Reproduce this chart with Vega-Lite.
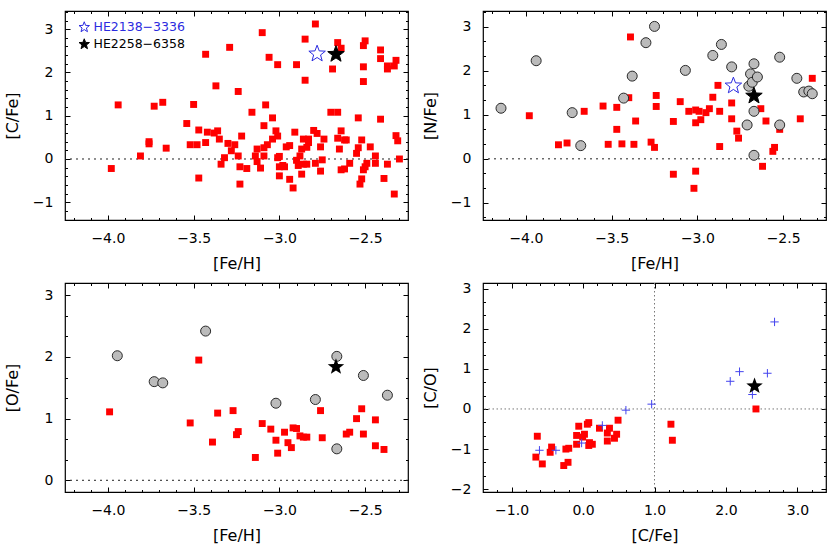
{
  "$schema": "https://vega.github.io/schema/vega-lite/v6.json",
  "padding": {"left": 3, "top": 9, "right": 2, "bottom": 2},
  "config": {
    "view": {"stroke": "#000", "strokeWidth": 1.2},
    "axis": {"domain": false, "grid": false, "labelFont": "DejaVu Sans", "labelFontSize": 14, "labelColor": "#000", "titleFont": "DejaVu Sans", "titleFontSize": 16, "titleFontWeight": "normal", "titleColor": "#000", "tickColor": "#000", "tickWidth": 1, "labelFlush": false, "labelOverlap": false}
  },
  "spacing": 9,
  "resolve": {"scale": {"fill": "independent", "stroke": "independent"}, "legend": {"fill": "independent", "stroke": "independent"}},
  "datasets": {
    "p1r": [
      {"x":-3.98,"y":-0.22},{"x":-3.94,"y":1.25},{"x":-3.81,"y":0.07},{"x":-3.76,"y":0.40},{"x":-3.76,"y":0.35},{"x":-3.73,"y":1.22},{"x":-3.68,"y":1.31},{"x":-3.66,"y":0.25},{"x":-3.54,"y":0.82},{"x":-3.52,"y":0.33},{"x":-3.50,"y":1.26},{"x":-3.48,"y":0.33},{"x":-3.47,"y":0.67},{"x":-3.47,"y":-0.44},{"x":-3.43,"y":0.38},{"x":-3.43,"y":2.42},{"x":-3.42,"y":0.62},{"x":-3.38,"y":0.60},{"x":-3.36,"y":0.65},{"x":-3.37,"y":1.69},{"x":-3.35,"y":0.46},{"x":-3.34,"y":-0.12},{"x":-3.32,"y":0.03},{"x":-3.30,"y":0.36},{"x":-3.29,"y":2.58},{"x":-3.28,"y":0.19},{"x":-3.26,"y":0.33},{"x":-3.24,"y":1.56},{"x":-3.24,"y":0.07},{"x":-3.23,"y":-0.18},{"x":-3.23,"y":-0.58},{"x":-3.22,"y":0.53},{"x":-3.19,"y":-0.22},{"x":-3.16,"y":1.08},{"x":-3.14,"y":0.07},{"x":-3.13,"y":0.23},{"x":-3.13,"y":-0.06},{"x":-3.11,"y":-0.21},{"x":-3.10,"y":2.92},{"x":-3.09,"y":0.77},{"x":-3.09,"y":0.26},{"x":-3.09,"y":0.07},{"x":-3.08,"y":1.25},{"x":-3.07,"y":0.33},{"x":-3.06,"y":2.35},{"x":-3.04,"y":0.95},{"x":-3.04,"y":0.46},{"x":-3.02,"y":0.65},{"x":-3.01,"y":2.18},{"x":-3.01,"y":0.53},{"x":-3.01,"y":0.03},{"x":-3.00,"y":0.06},{"x":-3.00,"y":-0.18},{"x":-3.00,"y":-0.39},{"x":-2.98,"y":-0.15},{"x":-2.97,"y":-0.18},{"x":-2.96,"y":0.28},{"x":-2.94,"y":0.31},{"x":-2.94,"y":-0.47},{"x":-2.92,"y":-0.67},{"x":-2.91,"y":0.62},{"x":-2.90,"y":2.18},{"x":-2.90,"y":-0.03},{"x":-2.89,"y":-0.15},{"x":-2.88,"y":0.07},{"x":-2.87,"y":-0.35},{"x":-2.87,"y":0.23},{"x":-2.86,"y":0.46},{"x":-2.86,"y":-0.12},{"x":-2.85,"y":2.77},{"x":-2.85,"y":1.82},{"x":-2.84,"y":-0.12},{"x":-2.84,"y":0.27},{"x":-2.83,"y":0.46},{"x":-2.83,"y":0.38},{"x":-2.80,"y":0.66},{"x":-2.79,"y":3.12},{"x":-2.79,"y":-0.10},{"x":-2.78,"y":0.59},{"x":-2.76,"y":0.28},{"x":-2.76,"y":-0.28},{"x":-2.75,"y":-0.02},{"x":-2.74,"y":0.46},{"x":-2.70,"y":1.08},{"x":-2.69,"y":2.08},{"x":-2.66,"y":1.08},{"x":-2.66,"y":2.69},{"x":-2.66,"y":0.48},{"x":-2.65,"y":0.23},{"x":-2.64,"y":0.65},{"x":-2.64,"y":2.56},{"x":-2.64,"y":-0.25},{"x":-2.62,"y":-0.23},{"x":-2.62,"y":0.44},{"x":-2.61,"y":0.44},{"x":-2.59,"y":-0.10},{"x":-2.55,"y":0.13},{"x":-2.54,"y":0.95},{"x":-2.54,"y":0.26},{"x":-2.53,"y":-0.58},{"x":-2.52,"y":0.44},{"x":-2.52,"y":-0.46},{"x":-2.51,"y":2.13},{"x":-2.51,"y":1.79},{"x":-2.51,"y":-0.25},{"x":-2.51,"y":2.62},{"x":-2.50,"y":2.73},{"x":-2.50,"y":-0.18},{"x":-2.49,"y":-0.10},{"x":-2.47,"y":0.28},{"x":-2.44,"y":0.07},{"x":-2.44,"y":-0.10},{"x":-2.41,"y":2.52},{"x":-2.41,"y":0.92},{"x":-2.41,"y":2.32},{"x":-2.39,"y":-0.45},{"x":-2.37,"y":2.15},{"x":-2.37,"y":2.08},{"x":-2.37,"y":-0.12},{"x":-2.33,"y":2.15},{"x":-2.32,"y":2.28},{"x":-2.32,"y":0.54},{"x":-2.31,"y":0.42},{"x":-2.33,"y":-0.81},{"x":-2.30,"y":0.00}
    ],
    "p1s": [
      {"x":-2.78,"y":2.43,"star":"HE2138−3336"},{"x":-2.67,"y":2.42,"star":"HE2258−6358"}
    ],
    "p2r": [
      {"x":-3.98,"y":0.98},{"x":-3.81,"y":0.32},{"x":-3.76,"y":0.36},{"x":-3.66,"y":1.08},{"x":-3.55,"y":1.20},{"x":-3.52,"y":0.33},{"x":-3.47,"y":1.17},{"x":-3.47,"y":0.67},{"x":-3.44,"y":0.34},{"x":-3.40,"y":1.39},{"x":-3.39,"y":2.77},{"x":-3.37,"y":0.33},{"x":-3.36,"y":0.86},{"x":-3.27,"y":0.38},{"x":-3.25,"y":0.26},{"x":-3.24,"y":1.44},{"x":-3.24,"y":1.19},{"x":-3.14,"y":0.85},{"x":-3.14,"y":-0.35},{"x":-3.10,"y":1.30},{"x":-3.05,"y":1.08},{"x":-3.02,"y":-0.67},{"x":-3.01,"y":0.82},{"x":-3.01,"y":1.11},{"x":-3.01,"y":-0.28},{"x":-2.99,"y":1.08},{"x":-2.98,"y":0.89},{"x":-2.95,"y":1.05},{"x":-2.93,"y":1.14},{"x":-2.91,"y":1.40},{"x":-2.88,"y":1.67},{"x":-2.87,"y":1.08},{"x":-2.87,"y":0.28},{"x":-2.80,"y":1.27},{"x":-2.80,"y":0.91},{"x":-2.77,"y":0.63},{"x":-2.76,"y":0.47},{"x":-2.63,"y":1.14},{"x":-2.62,"y":-0.17},{"x":-2.60,"y":0.86},{"x":-2.56,"y":0.17},{"x":-2.55,"y":0.26},{"x":-2.52,"y":0.67},{"x":-2.40,"y":0.91},{"x":-2.33,"y":1.83}
    ],
    "p2g": [
      {"x":-4.145,"y":1.15},{"x":-3.94,"y":2.23},{"x":-3.73,"y":1.05},{"x":-3.68,"y":0.30},{"x":-3.43,"y":1.38},{"x":-3.38,"y":1.88},{"x":-3.30,"y":2.64},{"x":-3.25,"y":3.01},{"x":-3.07,"y":2.01},{"x":-2.91,"y":2.35},{"x":-2.86,"y":2.60},{"x":-2.80,"y":2.09},{"x":-2.71,"y":0.77},{"x":-2.70,"y":1.65},{"x":-2.69,"y":1.93},{"x":-2.68,"y":1.74},{"x":-2.67,"y":2.16},{"x":-2.65,"y":1.86},{"x":-2.67,"y":1.08},{"x":-2.67,"y":0.08},{"x":-2.52,"y":2.31},{"x":-2.52,"y":0.77},{"x":-2.42,"y":1.83},{"x":-2.38,"y":1.52},{"x":-2.35,"y":1.54},{"x":-2.33,"y":1.48}
    ],
    "p2s": [
      {"x":-2.79,"y":1.66,"star":"HE2138−3336"},{"x":-2.67,"y":1.43,"star":"HE2258−6358"}
    ],
    "p3r": [
      {"x":-3.99,"y":1.11},{"x":-3.52,"y":0.93},{"x":-3.47,"y":1.95},{"x":-3.39,"y":0.62},{"x":-3.36,"y":1.09},{"x":-3.27,"y":1.13},{"x":-3.25,"y":0.74},{"x":-3.24,"y":0.79},{"x":-3.14,"y":0.37},{"x":-3.10,"y":0.92},{"x":-3.05,"y":0.83},{"x":-3.02,"y":0.65},{"x":-3.01,"y":0.44},{"x":-2.97,"y":0.78},{"x":-2.95,"y":0.61},{"x":-2.93,"y":0.53},{"x":-2.92,"y":0.85},{"x":-2.90,"y":0.84},{"x":-2.88,"y":0.72},{"x":-2.86,"y":0.70},{"x":-2.84,"y":0.70},{"x":-2.76,"y":1.13},{"x":-2.75,"y":0.69},{"x":-2.61,"y":0.75},{"x":-2.59,"y":0.78},{"x":-2.55,"y":1.00},{"x":-2.52,"y":1.16},{"x":-2.51,"y":0.75},{"x":-2.44,"y":0.98},{"x":-2.44,"y":0.56},{"x":-2.39,"y":0.50}
    ],
    "p3g": [
      {"x":-3.945,"y":2.02},{"x":-3.73,"y":1.60},{"x":-3.68,"y":1.58},{"x":-3.43,"y":2.42},{"x":-3.02,"y":1.25},{"x":-2.79,"y":1.31},{"x":-2.665,"y":2.01},{"x":-2.665,"y":0.51},{"x":-2.51,"y":1.70},{"x":-2.37,"y":1.38}
    ],
    "p3s": [
      {"x":-2.67,"y":1.84,"star":"HE2258−6358"}
    ],
    "p4r": [
      {"x":-0.66,"y":-1.20},{"x":-0.64,"y":-0.68},{"x":-0.57,"y":-1.37},{"x":-0.46,"y":-1.08},{"x":-0.44,"y":-0.95},{"x":-0.27,"y":-1.41},{"x":-0.24,"y":-1.00},{"x":-0.21,"y":-1.33},{"x":-0.20,"y":-0.98},{"x":-0.09,"y":-0.66},{"x":-0.09,"y":-0.88},{"x":-0.06,"y":-0.43},{"x":-0.005,"y":-0.70},{"x":0.02,"y":-0.63},{"x":0.06,"y":-0.38},{"x":0.08,"y":-0.34},{"x":0.08,"y":-0.91},{"x":0.09,"y":-0.84},{"x":0.13,"y":-0.88},{"x":0.23,"y":-0.48},{"x":0.34,"y":-0.60},{"x":0.34,"y":-0.80},{"x":0.37,"y":-0.48},{"x":0.44,"y":-0.73},{"x":0.47,"y":-0.63},{"x":0.49,"y":-0.28},{"x":1.23,"y":-0.38},{"x":1.25,"y":-0.78},{"x":2.42,"y":0.00}
    ],
    "p4c": [
      {"x":-0.61,"y":-1.03},{"x":-0.38,"y":-1.03},{"x":-0.02,"y":-0.85},{"x":0.27,"y":-0.41},{"x":0.60,"y":-0.03},{"x":0.96,"y":0.12},{"x":2.06,"y":0.69},{"x":2.19,"y":0.93},{"x":2.37,"y":0.36},{"x":2.58,"y":0.89},{"x":2.68,"y":2.17}
    ],
    "p4s": [
      {"x":2.40,"y":0.57,"star":"HE2258−6358"}
    ]
  },
  "vconcat": [
    {
      "spacing": 11,
      "resolve": {"scale": {"fill": "independent", "stroke": "independent"}, "legend": {"fill": "independent", "stroke": "independent"}},
      "hconcat": [
        {
          "width": 343, "height": 209,
          "resolve": {"axis": {"x": "independent", "y": "independent"}},
          "layer": [
            {"data": {"values": [{"v": 0}]}, "mark": {"type": "rule", "strokeDash": [2, 4], "color": "#222", "strokeWidth": 1},
             "encoding": {"y": {"field": "v", "type": "quantitative", "scale": {"domain": [-1.41, 3.42], "nice": false, "zero": false}, "axis": null}}},
            {"data": {"name": "p1r"}, "mark": {"type": "point", "shape": "square", "filled": true, "color": "#ff0000", "size": 48, "opacity": 1},
             "encoding": {
               "x": {"field": "x", "type": "quantitative", "scale": {"domain": [-4.25, -2.25], "nice": false, "zero": false}, "axis": {"orient": "bottom", "values": [-4, -3.5, -3, -2.5], "format": ".1f", "ticks": false, "labelPadding": 11, "title": "[Fe/H]", "titlePadding": 9, "minExtent": 26, "maxExtent": 26}},
               "y": {"field": "y", "type": "quantitative", "scale": {"domain": [-1.41, 3.42], "nice": false, "zero": false}, "axis": {"orient": "left", "values": [-1, 0, 1, 2, 3], "format": "d", "ticks": false, "labelPadding": 12, "title": "[C/Fe]", "titlePadding": 15, "minExtent": 30, "maxExtent": 30}}}},
            {"data": {"name": "p1s"}, "mark": {"type": "point", "shape": "M0,-1L0.247,-0.34L0.951,-0.309L0.399,0.13L0.588,0.809L0,0.42L-0.588,0.809L-0.399,0.13L-0.951,-0.309L-0.247,-0.34Z", "filled": true, "size": 300, "opacity": 1, "strokeWidth": 1},
             "encoding": {
               "x": {"field": "x", "type": "quantitative", "scale": {"domain": [-4.25, -2.25], "nice": false, "zero": false}, "axis": null},
               "y": {"field": "y", "type": "quantitative", "scale": {"domain": [-1.41, 3.42], "nice": false, "zero": false}, "axis": null},
               "fill": {"field": "star", "type": "nominal", "scale": {"domain": ["HE2138−3336", "HE2258−6358"], "range": ["transparent", "#000000"]},
                 "legend": {"title": null, "orient": "none", "legendX": 13, "legendY": 10, "padding": 0, "symbolType": "M0,-1L0.247,-0.34L0.951,-0.309L0.399,0.13L0.588,0.809L0,0.42L-0.588,0.809L-0.399,0.13L-0.951,-0.309L-0.247,-0.34Z", "symbolSize": 120, "symbolStrokeWidth": 1, "labelFont": "DejaVu Sans", "labelFontSize": 12.5, "labelOffset": 3, "rowPadding": 2, "labelColor": {"expr": "datum.value === 'HE2138−3336' ? '#2b2be0' : '#000000'"}}},
               "stroke": {"field": "star", "type": "nominal", "scale": {"domain": ["HE2138−3336", "HE2258−6358"], "range": ["#2b2be0", "#000000"]},
                 "legend": {"title": null, "orient": "none", "legendX": 13, "legendY": 10, "padding": 0, "symbolType": "M0,-1L0.247,-0.34L0.951,-0.309L0.399,0.13L0.588,0.809L0,0.42L-0.588,0.809L-0.399,0.13L-0.951,-0.309L-0.247,-0.34Z", "symbolSize": 120, "symbolStrokeWidth": 1, "labelFont": "DejaVu Sans", "labelFontSize": 12.5, "labelOffset": 3, "rowPadding": 2, "labelColor": {"expr": "datum.value === 'HE2138−3336' ? '#2b2be0' : '#000000'"}}}}},
            {"data": {"name": "p1r"}, "mark": {"type": "point", "opacity": 0},
             "encoding": {
               "x": {"field": "x", "type": "quantitative", "scale": {"domain": [-4.25, -2.25], "nice": false, "zero": false}, "axis": {"orient": "bottom", "values": [-4, -3.5, -3, -2.5], "labels": false, "title": null, "tickSize": -5}},
               "y": {"field": "y", "type": "quantitative", "scale": {"domain": [-1.41, 3.42], "nice": false, "zero": false}, "axis": {"orient": "left", "values": [-1, 0, 1, 2, 3], "labels": false, "title": null, "tickSize": -5}}}},
            {"data": {"name": "p1r"}, "mark": {"type": "point", "opacity": 0},
             "encoding": {
               "x": {"field": "x", "type": "quantitative", "scale": {"domain": [-4.25, -2.25], "nice": false, "zero": false}, "axis": {"orient": "top", "values": [-4, -3.5, -3, -2.5], "labels": false, "title": null, "tickSize": -5}},
               "y": {"field": "y", "type": "quantitative", "scale": {"domain": [-1.41, 3.42], "nice": false, "zero": false}, "axis": {"orient": "right", "values": [-1, 0, 1, 2, 3], "labels": false, "title": null, "tickSize": -5}}}},
            {"data": {"name": "p1r"}, "mark": {"type": "point", "opacity": 0},
             "encoding": {
               "x": {"field": "x", "type": "quantitative", "scale": {"domain": [-4.25, -2.25], "nice": false, "zero": false}, "axis": {"orient": "bottom", "values": [-4.2, -4.1, -3.9, -3.8, -3.7, -3.6, -3.4, -3.3, -3.2, -3.1, -2.9, -2.8, -2.7, -2.6, -2.4, -2.3], "labels": false, "title": null, "tickSize": -2.5}},
               "y": {"field": "y", "type": "quantitative", "scale": {"domain": [-1.41, 3.42], "nice": false, "zero": false}, "axis": {"orient": "left", "values": [-1.4, -1.2, -0.8, -0.6, -0.4, -0.2, 0.2, 0.4, 0.6, 0.8, 1.2, 1.4, 1.6, 1.8, 2.2, 2.4, 2.6, 2.8, 3.2, 3.4], "labels": false, "title": null, "tickSize": -2.5}}}},
            {"data": {"name": "p1r"}, "mark": {"type": "point", "opacity": 0},
             "encoding": {
               "x": {"field": "x", "type": "quantitative", "scale": {"domain": [-4.25, -2.25], "nice": false, "zero": false}, "axis": {"orient": "top", "values": [-4.2, -4.1, -3.9, -3.8, -3.7, -3.6, -3.4, -3.3, -3.2, -3.1, -2.9, -2.8, -2.7, -2.6, -2.4, -2.3], "labels": false, "title": null, "tickSize": -2.5}},
               "y": {"field": "y", "type": "quantitative", "scale": {"domain": [-1.41, 3.42], "nice": false, "zero": false}, "axis": {"orient": "right", "values": [-1.4, -1.2, -0.8, -0.6, -0.4, -0.2, 0.2, 0.4, 0.6, 0.8, 1.2, 1.4, 1.6, 1.8, 2.2, 2.4, 2.6, 2.8, 3.2, 3.4], "labels": false, "title": null, "tickSize": -2.5}}}}
          ]
        },
        {
          "width": 343, "height": 209,
          "resolve": {"axis": {"x": "independent", "y": "independent"}},
          "layer": [
            {"data": {"values": [{"v": 0}]}, "mark": {"type": "rule", "strokeDash": [2, 4], "color": "#222", "strokeWidth": 1},
             "encoding": {"y": {"field": "v", "type": "quantitative", "scale": {"domain": [-1.39, 3.36], "nice": false, "zero": false}, "axis": null}}},
            {"data": {"name": "p2r"}, "mark": {"type": "point", "shape": "square", "filled": true, "color": "#ff0000", "size": 48, "opacity": 1},
             "encoding": {
               "x": {"field": "x", "type": "quantitative", "scale": {"domain": [-4.25, -2.25], "nice": false, "zero": false}, "axis": {"orient": "bottom", "values": [-4, -3.5, -3, -2.5], "format": ".1f", "ticks": false, "labelPadding": 11, "title": "[Fe/H]", "titlePadding": 9, "minExtent": 26, "maxExtent": 26}},
               "y": {"field": "y", "type": "quantitative", "scale": {"domain": [-1.39, 3.36], "nice": false, "zero": false}, "axis": {"orient": "left", "values": [-1, 0, 1, 2, 3], "format": "d", "ticks": false, "labelPadding": 12, "title": "[N/Fe]", "titlePadding": 15, "minExtent": 30, "maxExtent": 30}}}},
            {"data": {"name": "p2g"}, "mark": {"type": "point", "shape": "circle", "filled": true, "fill": "#bbbbbb", "stroke": "#2a2a2a", "strokeWidth": 1, "size": 100, "opacity": 1},
             "encoding": {
               "x": {"field": "x", "type": "quantitative", "scale": {"domain": [-4.25, -2.25], "nice": false, "zero": false}, "axis": null},
               "y": {"field": "y", "type": "quantitative", "scale": {"domain": [-1.39, 3.36], "nice": false, "zero": false}, "axis": null}}},
            {"data": {"name": "p2s"}, "mark": {"type": "point", "shape": "M0,-1L0.247,-0.34L0.951,-0.309L0.399,0.13L0.588,0.809L0,0.42L-0.588,0.809L-0.399,0.13L-0.951,-0.309L-0.247,-0.34Z", "filled": true, "size": 300, "opacity": 1, "strokeWidth": 1},
             "encoding": {
               "x": {"field": "x", "type": "quantitative", "scale": {"domain": [-4.25, -2.25], "nice": false, "zero": false}, "axis": null},
               "y": {"field": "y", "type": "quantitative", "scale": {"domain": [-1.39, 3.36], "nice": false, "zero": false}, "axis": null},
               "fill": {"field": "star", "type": "nominal", "scale": {"domain": ["HE2138−3336", "HE2258−6358"], "range": ["transparent", "#000000"]}, "legend": null},
               "stroke": {"field": "star", "type": "nominal", "scale": {"domain": ["HE2138−3336", "HE2258−6358"], "range": ["#2b2be0", "#000000"]}, "legend": null}}},
            {"data": {"name": "p2r"}, "mark": {"type": "point", "opacity": 0},
             "encoding": {
               "x": {"field": "x", "type": "quantitative", "scale": {"domain": [-4.25, -2.25], "nice": false, "zero": false}, "axis": {"orient": "bottom", "values": [-4, -3.5, -3, -2.5], "labels": false, "title": null, "tickSize": -5}},
               "y": {"field": "y", "type": "quantitative", "scale": {"domain": [-1.39, 3.36], "nice": false, "zero": false}, "axis": {"orient": "left", "values": [-1, 0, 1, 2, 3], "labels": false, "title": null, "tickSize": -5}}}},
            {"data": {"name": "p2r"}, "mark": {"type": "point", "opacity": 0},
             "encoding": {
               "x": {"field": "x", "type": "quantitative", "scale": {"domain": [-4.25, -2.25], "nice": false, "zero": false}, "axis": {"orient": "top", "values": [-4, -3.5, -3, -2.5], "labels": false, "title": null, "tickSize": -5}},
               "y": {"field": "y", "type": "quantitative", "scale": {"domain": [-1.39, 3.36], "nice": false, "zero": false}, "axis": {"orient": "right", "values": [-1, 0, 1, 2, 3], "labels": false, "title": null, "tickSize": -5}}}},
            {"data": {"name": "p2r"}, "mark": {"type": "point", "opacity": 0},
             "encoding": {
               "x": {"field": "x", "type": "quantitative", "scale": {"domain": [-4.25, -2.25], "nice": false, "zero": false}, "axis": {"orient": "bottom", "values": [-4.2, -4.1, -3.9, -3.8, -3.7, -3.6, -3.4, -3.3, -3.2, -3.1, -2.9, -2.8, -2.7, -2.6, -2.4, -2.3], "labels": false, "title": null, "tickSize": -2.5}},
               "y": {"field": "y", "type": "quantitative", "scale": {"domain": [-1.39, 3.36], "nice": false, "zero": false}, "axis": {"orient": "left", "values": [-1.333, -0.667, -0.333, 0.333, 0.667, 1.333, 1.667, 2.333, 2.667, 3.333], "labels": false, "title": null, "tickSize": -2.5}}}},
            {"data": {"name": "p2r"}, "mark": {"type": "point", "opacity": 0},
             "encoding": {
               "x": {"field": "x", "type": "quantitative", "scale": {"domain": [-4.25, -2.25], "nice": false, "zero": false}, "axis": {"orient": "top", "values": [-4.2, -4.1, -3.9, -3.8, -3.7, -3.6, -3.4, -3.3, -3.2, -3.1, -2.9, -2.8, -2.7, -2.6, -2.4, -2.3], "labels": false, "title": null, "tickSize": -2.5}},
               "y": {"field": "y", "type": "quantitative", "scale": {"domain": [-1.39, 3.36], "nice": false, "zero": false}, "axis": {"orient": "right", "values": [-1.333, -0.667, -0.333, 0.333, 0.667, 1.333, 1.667, 2.333, 2.667, 3.333], "labels": false, "title": null, "tickSize": -2.5}}}}
          ]
        }
      ]
    },
    {
      "spacing": 11,
      "hconcat": [
        {
          "width": 343, "height": 209,
          "resolve": {"axis": {"x": "independent", "y": "independent"}},
          "layer": [
            {"data": {"values": [{"v": 0}]}, "mark": {"type": "rule", "strokeDash": [2, 4], "color": "#222", "strokeWidth": 1},
             "encoding": {"y": {"field": "v", "type": "quantitative", "scale": {"domain": [-0.19, 3.2], "nice": false, "zero": false}, "axis": null}}},
            {"data": {"name": "p3r"}, "mark": {"type": "point", "shape": "square", "filled": true, "color": "#ff0000", "size": 48, "opacity": 1},
             "encoding": {
               "x": {"field": "x", "type": "quantitative", "scale": {"domain": [-4.25, -2.25], "nice": false, "zero": false}, "axis": {"orient": "bottom", "values": [-4, -3.5, -3, -2.5], "format": ".1f", "ticks": false, "labelPadding": 11, "title": "[Fe/H]", "titlePadding": 9, "minExtent": 26, "maxExtent": 26}},
               "y": {"field": "y", "type": "quantitative", "scale": {"domain": [-0.19, 3.2], "nice": false, "zero": false}, "axis": {"orient": "left", "values": [0, 1, 2, 3], "format": "d", "ticks": false, "labelPadding": 12, "title": "[O/Fe]", "titlePadding": 15, "minExtent": 30, "maxExtent": 30}}}},
            {"data": {"name": "p3g"}, "mark": {"type": "point", "shape": "circle", "filled": true, "fill": "#bbbbbb", "stroke": "#2a2a2a", "strokeWidth": 1, "size": 100, "opacity": 1},
             "encoding": {
               "x": {"field": "x", "type": "quantitative", "scale": {"domain": [-4.25, -2.25], "nice": false, "zero": false}, "axis": null},
               "y": {"field": "y", "type": "quantitative", "scale": {"domain": [-0.19, 3.2], "nice": false, "zero": false}, "axis": null}}},
            {"data": {"name": "p3s"}, "mark": {"type": "point", "shape": "M0,-1L0.247,-0.34L0.951,-0.309L0.399,0.13L0.588,0.809L0,0.42L-0.588,0.809L-0.399,0.13L-0.951,-0.309L-0.247,-0.34Z", "filled": true, "color": "#000000", "size": 300, "opacity": 1},
             "encoding": {
               "x": {"field": "x", "type": "quantitative", "scale": {"domain": [-4.25, -2.25], "nice": false, "zero": false}, "axis": null},
               "y": {"field": "y", "type": "quantitative", "scale": {"domain": [-0.19, 3.2], "nice": false, "zero": false}, "axis": null}}},
            {"data": {"name": "p3r"}, "mark": {"type": "point", "opacity": 0},
             "encoding": {
               "x": {"field": "x", "type": "quantitative", "scale": {"domain": [-4.25, -2.25], "nice": false, "zero": false}, "axis": {"orient": "bottom", "values": [-4, -3.5, -3, -2.5], "labels": false, "title": null, "tickSize": -5}},
               "y": {"field": "y", "type": "quantitative", "scale": {"domain": [-0.19, 3.2], "nice": false, "zero": false}, "axis": {"orient": "left", "values": [0, 1, 2, 3], "labels": false, "title": null, "tickSize": -5}}}},
            {"data": {"name": "p3r"}, "mark": {"type": "point", "opacity": 0},
             "encoding": {
               "x": {"field": "x", "type": "quantitative", "scale": {"domain": [-4.25, -2.25], "nice": false, "zero": false}, "axis": {"orient": "top", "values": [-4, -3.5, -3, -2.5], "labels": false, "title": null, "tickSize": -5}},
               "y": {"field": "y", "type": "quantitative", "scale": {"domain": [-0.19, 3.2], "nice": false, "zero": false}, "axis": {"orient": "right", "values": [0, 1, 2, 3], "labels": false, "title": null, "tickSize": -5}}}},
            {"data": {"name": "p3r"}, "mark": {"type": "point", "opacity": 0},
             "encoding": {
               "x": {"field": "x", "type": "quantitative", "scale": {"domain": [-4.25, -2.25], "nice": false, "zero": false}, "axis": {"orient": "bottom", "values": [-4.2, -4.1, -3.9, -3.8, -3.7, -3.6, -3.4, -3.3, -3.2, -3.1, -2.9, -2.8, -2.7, -2.6, -2.4, -2.3], "labels": false, "title": null, "tickSize": -2.5}},
               "y": {"field": "y", "type": "quantitative", "scale": {"domain": [-0.19, 3.2], "nice": false, "zero": false}, "axis": {"orient": "left", "values": [0.333, 0.667, 1.333, 1.667, 2.333, 2.667], "labels": false, "title": null, "tickSize": -2.5}}}},
            {"data": {"name": "p3r"}, "mark": {"type": "point", "opacity": 0},
             "encoding": {
               "x": {"field": "x", "type": "quantitative", "scale": {"domain": [-4.25, -2.25], "nice": false, "zero": false}, "axis": {"orient": "top", "values": [-4.2, -4.1, -3.9, -3.8, -3.7, -3.6, -3.4, -3.3, -3.2, -3.1, -2.9, -2.8, -2.7, -2.6, -2.4, -2.3], "labels": false, "title": null, "tickSize": -2.5}},
               "y": {"field": "y", "type": "quantitative", "scale": {"domain": [-0.19, 3.2], "nice": false, "zero": false}, "axis": {"orient": "right", "values": [0.333, 0.667, 1.333, 1.667, 2.333, 2.667], "labels": false, "title": null, "tickSize": -2.5}}}}
          ]
        },
        {
          "width": 343, "height": 209,
          "resolve": {"axis": {"x": "independent", "y": "independent"}},
          "layer": [
            {"data": {"values": [{"v": 0}]}, "mark": {"type": "rule", "strokeDash": [1.5, 2.5], "color": "#777777", "strokeWidth": 1},
             "encoding": {"y": {"field": "v", "type": "quantitative", "scale": {"domain": [-2.07, 3.14], "nice": false, "zero": false}, "axis": null}}},
            {"data": {"values": [{"v": 1}]}, "mark": {"type": "rule", "strokeDash": [1.5, 2.5], "color": "#777777", "strokeWidth": 1},
             "encoding": {"x": {"field": "v", "type": "quantitative", "scale": {"domain": [-1.4, 3.4], "nice": false, "zero": false}, "axis": null}}},
            {"data": {"name": "p4r"}, "mark": {"type": "point", "shape": "square", "filled": true, "color": "#ff0000", "size": 48, "opacity": 1},
             "encoding": {
               "x": {"field": "x", "type": "quantitative", "scale": {"domain": [-1.4, 3.4], "nice": false, "zero": false}, "axis": {"orient": "bottom", "values": [-1, 0, 1, 2, 3], "format": ".1f", "ticks": false, "labelPadding": 11, "title": "[C/Fe]", "titlePadding": 9, "minExtent": 26, "maxExtent": 26}},
               "y": {"field": "y", "type": "quantitative", "scale": {"domain": [-2.07, 3.14], "nice": false, "zero": false}, "axis": {"orient": "left", "values": [-2, -1, 0, 1, 2, 3], "format": "d", "ticks": false, "labelPadding": 12, "title": "[C/O]", "titlePadding": 15, "minExtent": 30, "maxExtent": 30}}}},
            {"data": {"name": "p4c"}, "mark": {"type": "point", "shape": "M-1,0L1,0M0,-1L0,1", "filled": false, "stroke": "#4444ee", "strokeWidth": 1, "size": 70, "opacity": 1},
             "encoding": {
               "x": {"field": "x", "type": "quantitative", "scale": {"domain": [-1.4, 3.4], "nice": false, "zero": false}, "axis": null},
               "y": {"field": "y", "type": "quantitative", "scale": {"domain": [-2.07, 3.14], "nice": false, "zero": false}, "axis": null}}},
            {"data": {"name": "p4s"}, "mark": {"type": "point", "shape": "M0,-1L0.247,-0.34L0.951,-0.309L0.399,0.13L0.588,0.809L0,0.42L-0.588,0.809L-0.399,0.13L-0.951,-0.309L-0.247,-0.34Z", "filled": true, "color": "#000000", "size": 300, "opacity": 1},
             "encoding": {
               "x": {"field": "x", "type": "quantitative", "scale": {"domain": [-1.4, 3.4], "nice": false, "zero": false}, "axis": null},
               "y": {"field": "y", "type": "quantitative", "scale": {"domain": [-2.07, 3.14], "nice": false, "zero": false}, "axis": null}}},
            {"data": {"name": "p4r"}, "mark": {"type": "point", "opacity": 0},
             "encoding": {
               "x": {"field": "x", "type": "quantitative", "scale": {"domain": [-1.4, 3.4], "nice": false, "zero": false}, "axis": {"orient": "bottom", "values": [-1, 0, 1, 2, 3], "labels": false, "title": null, "tickSize": -5}},
               "y": {"field": "y", "type": "quantitative", "scale": {"domain": [-2.07, 3.14], "nice": false, "zero": false}, "axis": {"orient": "left", "values": [-2, -1, 0, 1, 2, 3], "labels": false, "title": null, "tickSize": -5}}}},
            {"data": {"name": "p4r"}, "mark": {"type": "point", "opacity": 0},
             "encoding": {
               "x": {"field": "x", "type": "quantitative", "scale": {"domain": [-1.4, 3.4], "nice": false, "zero": false}, "axis": {"orient": "top", "values": [-1, 0, 1, 2, 3], "labels": false, "title": null, "tickSize": -5}},
               "y": {"field": "y", "type": "quantitative", "scale": {"domain": [-2.07, 3.14], "nice": false, "zero": false}, "axis": {"orient": "right", "values": [-2, -1, 0, 1, 2, 3], "labels": false, "title": null, "tickSize": -5}}}},
            {"data": {"name": "p4r"}, "mark": {"type": "point", "opacity": 0},
             "encoding": {
               "x": {"field": "x", "type": "quantitative", "scale": {"domain": [-1.4, 3.4], "nice": false, "zero": false}, "axis": {"orient": "bottom", "values": [-1.2, -0.8, -0.6, -0.4, -0.2, 0.2, 0.4, 0.6, 0.8, 1.2, 1.4, 1.6, 1.8, 2.2, 2.4, 2.6, 2.8, 3.2], "labels": false, "title": null, "tickSize": -2.5}},
               "y": {"field": "y", "type": "quantitative", "scale": {"domain": [-2.07, 3.14], "nice": false, "zero": false}, "axis": {"orient": "left", "values": [-1.667, -1.333, -0.667, -0.333, 0.333, 0.667, 1.333, 1.667, 2.333, 2.667], "labels": false, "title": null, "tickSize": -2.5}}}},
            {"data": {"name": "p4r"}, "mark": {"type": "point", "opacity": 0},
             "encoding": {
               "x": {"field": "x", "type": "quantitative", "scale": {"domain": [-1.4, 3.4], "nice": false, "zero": false}, "axis": {"orient": "top", "values": [-1.2, -0.8, -0.6, -0.4, -0.2, 0.2, 0.4, 0.6, 0.8, 1.2, 1.4, 1.6, 1.8, 2.2, 2.4, 2.6, 2.8, 3.2], "labels": false, "title": null, "tickSize": -2.5}},
               "y": {"field": "y", "type": "quantitative", "scale": {"domain": [-2.07, 3.14], "nice": false, "zero": false}, "axis": {"orient": "right", "values": [-1.667, -1.333, -0.667, -0.333, 0.333, 0.667, 1.333, 1.667, 2.333, 2.667], "labels": false, "title": null, "tickSize": -2.5}}}}
          ]
        }
      ]
    }
  ]
}
